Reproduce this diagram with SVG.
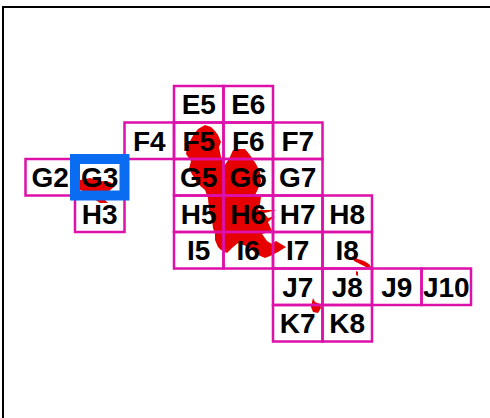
<svg xmlns="http://www.w3.org/2000/svg" width="490" height="418" viewBox="0 0 490 418">
<style>
.cell rect{fill:none;stroke:#dd11aa;stroke-width:2.5}
.cell text{font-family:"Liberation Sans",Arial,sans-serif;font-weight:bold;font-size:28px;fill:#000;text-anchor:middle}
.red{fill:#e60000}
</style>
<rect x="0" y="0" width="490" height="418" fill="#fff"/>
<rect x="3" y="7" width="520" height="440" fill="none" stroke="#000" stroke-width="2"/>
<g id="map">
<path class="red" d="M205,125 L211,127 L215,131 L218,135 L221,142 L219,147 L220,152 L221,157 L224,166 L229,159 L233,150 L239,149 L245,149 L250,155 L256,164 L260,172 L261,182 L258,189 L255,195 L261,197 L260,204 L258,210 L277,210 L264,213 L268,218 L275,216 L268,222 L272,231 L262,234 L267,241 L272,244 L276,241 L286,247 L278,252 L270,256 L265,258 L258,255 L252,250 L246,246 L238,243 L232,248 L227,253 L221,250 L218,247 L215,240 L215,234 L213,228 L212,220 L209,210 L208,198 L205,190 L198,184 L193,176 L189,169 L191,161 L188,157 L186,154 L187,147 L190,141 L194,134 L198,129 Z"/>
<path class="red" d="M80,180 L90,178 L100,181 L110,182 L115,186 L108,192 L100,196 L105,200 L108,203 L100,203 L94,199 L86,192 L80,190 Z"/>
<path class="red" d="M352,256 L358,259 L364,261 L369,264 L371,267 L366,267 L360,264 L354,261 Z"/>
<path class="red" d="M356,271 L358,272 L358,276 L356,275 Z"/>
<path class="red" d="M313,298 L315,302 L320,304 L321,308 L318,313 L313,312 L311,307 L312,302 Z"/>
</g>
<g id="E5" class="cell"><rect x="174" y="86" width="49.5" height="36.5"/><text x="198.75" y="114.25">E5</text></g>
<g id="E6" class="cell"><rect x="223.5" y="86" width="49.5" height="36.5"/><text x="248.25" y="114.25">E6</text></g>
<g id="F4" class="cell"><rect x="124.5" y="122.5" width="49.5" height="36.5"/><text x="149.25" y="150.75">F4</text></g>
<g id="F5" class="cell"><rect x="174" y="122.5" width="49.5" height="36.5"/><text x="198.75" y="150.75">F5</text></g>
<g id="F6" class="cell"><rect x="223.5" y="122.5" width="49.5" height="36.5"/><text x="248.25" y="150.75">F6</text></g>
<g id="F7" class="cell"><rect x="273" y="122.5" width="49.5" height="36.5"/><text x="297.75" y="150.75">F7</text></g>
<g id="G2" class="cell"><rect x="25.5" y="159" width="49.5" height="36.5"/><text x="50.25" y="187.25">G2</text></g>
<g id="G5" class="cell"><rect x="174" y="159" width="49.5" height="36.5"/><text x="198.75" y="187.25">G5</text></g>
<g id="G6" class="cell"><rect x="223.5" y="159" width="49.5" height="36.5"/><text x="248.25" y="187.25">G6</text></g>
<g id="G7" class="cell"><rect x="273" y="159" width="49.5" height="36.5"/><text x="297.75" y="187.25">G7</text></g>
<g id="H3" class="cell"><rect x="75" y="195.5" width="49.5" height="36.5"/><text x="99.75" y="223.75">H3</text></g>
<g id="H5" class="cell"><rect x="174" y="195.5" width="49.5" height="36.5"/><text x="198.75" y="223.75">H5</text></g>
<g id="H6" class="cell"><rect x="223.5" y="195.5" width="49.5" height="36.5"/><text x="248.25" y="223.75">H6</text></g>
<g id="H7" class="cell"><rect x="273" y="195.5" width="49.5" height="36.5"/><text x="297.75" y="223.75">H7</text></g>
<g id="H8" class="cell"><rect x="322.5" y="195.5" width="49.5" height="36.5"/><text x="347.25" y="223.75">H8</text></g>
<g id="I5" class="cell"><rect x="174" y="232" width="49.5" height="36.5"/><text x="198.75" y="260.25">I5</text></g>
<g id="I6" class="cell"><rect x="223.5" y="232" width="49.5" height="36.5"/><text x="248.25" y="260.25">I6</text></g>
<g id="I7" class="cell"><rect x="273" y="232" width="49.5" height="36.5"/><text x="297.75" y="260.25">I7</text></g>
<g id="I8" class="cell"><rect x="322.5" y="232" width="49.5" height="36.5"/><text x="347.25" y="260.25">I8</text></g>
<g id="J7" class="cell"><rect x="273" y="268.5" width="49.5" height="36.5"/><text x="297.75" y="296.75">J7</text></g>
<g id="J8" class="cell"><rect x="322.5" y="268.5" width="49.5" height="36.5"/><text x="347.25" y="296.75">J8</text></g>
<g id="J9" class="cell"><rect x="372" y="268.5" width="49.5" height="36.5"/><text x="396.75" y="296.75">J9</text></g>
<g id="J10" class="cell"><rect x="421.5" y="268.5" width="49.5" height="36.5"/><text x="446.25" y="296.75">J10</text></g>
<g id="K7" class="cell"><rect x="273" y="305" width="49.5" height="36.5"/><text x="297.75" y="333.25">K7</text></g>
<g id="K8" class="cell"><rect x="322.5" y="305" width="49.5" height="36.5"/><text x="347.25" y="333.25">K8</text></g>
<g id="G3" class="cell"><rect x="75" y="159" width="49.5" height="36.5" style="stroke:#0a6cf0;stroke-width:10"/><text x="99.75" y="187.25">G3</text></g>
</svg>
